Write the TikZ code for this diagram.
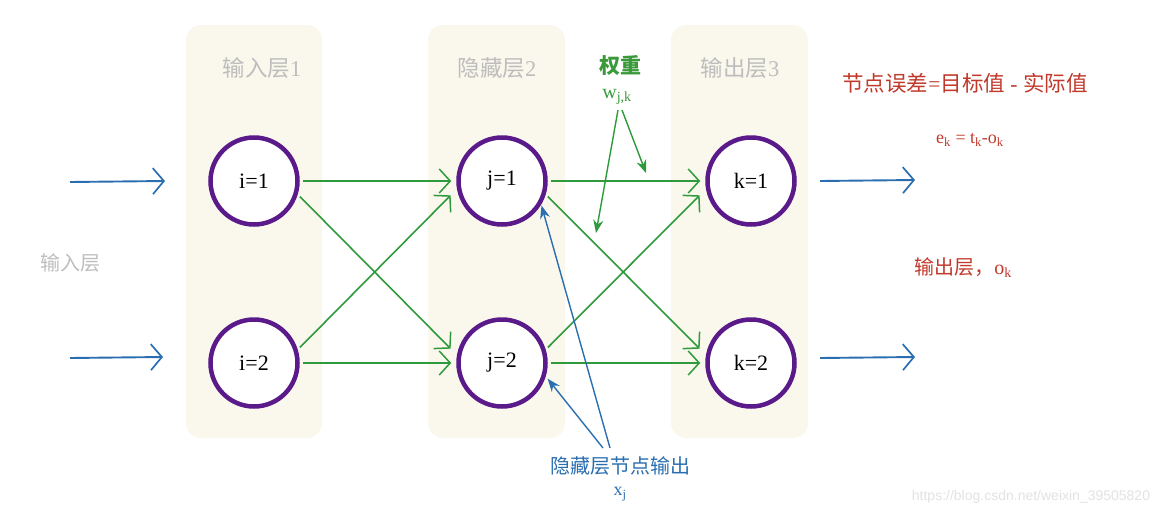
\documentclass[tikz,border=0pt]{standalone}
\usepackage{fontspec}
\setmainfont{Liberation Serif}
\newfontfamily\cjk{Noto Sans CJK SC}
\newfontfamily\wmfont{Liberation Sans}
\usetikzlibrary{arrows.meta,calc}
\definecolor{panelfill}{HTML}{FAF8EC}
\definecolor{titlegray}{HTML}{BDBDBD}
\definecolor{neuronpurple}{HTML}{5A1A8A}
\definecolor{wgreen}{HTML}{2E9A3C}
\definecolor{lblgreen}{HTML}{3A9A3A}
\definecolor{inblue}{HTML}{2A6EB0}
\definecolor{errred}{HTML}{C0392B}
\definecolor{wmgray}{HTML}{E2E2E2}
\tikzset{
  panel/.style={fill=panelfill, draw=none, rounded corners=15pt},
  neuron/.style={circle, draw=neuronpurple, line width=4.5pt, fill=white, minimum size=87pt, inner sep=0pt, font=\fontsize{22}{24}\selectfont},
  ptitle/.style={text=titlegray, inner sep=0pt, font=\fontsize{22.5}{26}\selectfont},
  wconn/.style={draw=wgreen, line width=1.6pt, -{Straight Barb[length=11pt,width=24pt,line width=1.5pt]}, shorten <=3pt, shorten >=5pt},
  flowarrow/.style={draw=inblue, line width=1.9pt, -{Straight Barb[length=11pt,width=26pt,line width=1.7pt]}},
  gnote/.style={draw=wgreen, line width=1.4pt, -{Stealth[length=13pt,width=10pt]}},
  bnote/.style={draw=inblue, line width=1.4pt, -{Stealth[length=13pt,width=10pt]}},
  lbl/.style={inner sep=0pt},
}
\begin{document}
\begin{tikzpicture}[x=1pt,y=-1pt]
\useasboundingbox (0,0) rectangle (1176,517);
% panels
\fill[panel] (186,25) rectangle (322,438);
\fill[panel] (428,25) rectangle (565,438);
\fill[panel] (671,25) rectangle (808,438);
% panel titles
\node[ptitle] (t1) at (262,68) {{\cjk 输入层}1};
\node[ptitle] (t2) at (497,68) {{\cjk 隐藏层}2};
\node[ptitle] (t3) at (740,68) {{\cjk 输出层}3};
% neurons
\node[neuron] (i1) at (254,181) {i=1};
\node[neuron] (i2) at (254,363) {i=2};
\node[neuron] (j1) at (502,181) {j=1};
\node[neuron] (j2) at (502,363) {j=2};
\node[neuron] (k1) at (751,181) {k=1};
\node[neuron] (k2) at (751,363) {k=2};
% weighted connections
\draw[wconn] (i1.east) -- (j1.west);
\draw[wconn, shorten >=9pt] (i1.-17) -- (j2.170);
\draw[wconn, shorten >=9pt] (i2.17) -- (j1.-170);
\draw[wconn] (i2.east) -- (j2.west);
\draw[wconn] (j1.east) -- (k1.west);
\draw[wconn, shorten >=9pt] (j1.-17) -- (k2.170);
\draw[wconn, shorten >=9pt] (j2.17) -- (k1.-170);
\draw[wconn] (j2.east) -- (k2.west);
% input / output flow arrows
\coordinate (in1s) at (70,182);
\coordinate (in1e) at (165,181);
\coordinate (in2s) at (70,358);
\coordinate (in2e) at (163,357);
\coordinate (out1s) at (820,181);
\coordinate (out1e) at (915,180);
\coordinate (out2s) at (820,358);
\coordinate (out2e) at (915,357);
\draw[flowarrow] (in1s) -- (in1e);
\draw[flowarrow] (in2s) -- (in2e);
\draw[flowarrow] (out1s) -- (out1e);
\draw[flowarrow] (out2s) -- (out2e);
% labels
\node[lbl, text=titlegray, font=\fontsize{20}{24}\selectfont\cjk] (inlayer) at (70,263) {输入层};
\node[lbl, text=lblgreen, font=\fontsize{21}{24}\selectfont\cjk\bfseries] (wt) at (620,66) {权重};
\node[lbl, text=lblgreen, font=\fontsize{20}{24}\selectfont] (wlab) at (617,97) {w\textsubscript{j,k}};
\node[lbl, text=inblue, font=\fontsize{20}{24}\selectfont\cjk] (hid) at (620,466) {隐藏层节点输出};
\node[lbl, text=inblue, font=\fontsize{18}{22}\selectfont] (xj) at (620,494) {x\textsubscript{j}};
\node[lbl, text=errred, font=\fontsize{21.5}{24}\selectfont] (err) at (965,83) {{\cjk 节点误差}={\cjk 目标值} - {\cjk 实际值}};
\node[lbl, text=errred, font=\fontsize{18}{22}\selectfont] (eq) at (970,140) {e\textsubscript{k} = t\textsubscript{k}-o\textsubscript{k}};
\node[lbl, text=errred, font=\fontsize{20}{24}\selectfont] (outk) at (963,268) {{\cjk 输出层，}o\textsubscript{k}};
\node[lbl, text=wmgray, font=\fontsize{14}{16}\selectfont\wmfont] (wm) at (1031,497) {https://blog.csdn.net/weixin\_39505820};
% annotation arrows
\coordinate (wtip1) at (646,173);
\coordinate (wtip2) at (596,233);
\draw[gnote] (622,110) -- (wtip1);
\draw[gnote] (618,110) -- (wtip2);
\draw[bnote, shorten >=1pt] (610,448) -- (j1.-31);
\draw[bnote, shorten >=3pt] (603,448) -- (j2.-17);
\end{tikzpicture}
\end{document}
